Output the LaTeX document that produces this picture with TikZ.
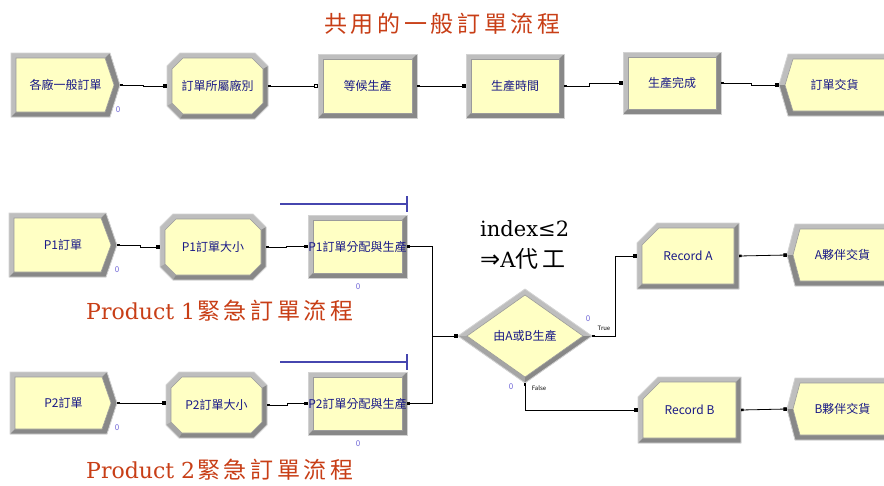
\documentclass[tikz,border=0pt]{standalone}
\usepackage{fontspec}
\setmainfont{DejaVu Serif}
\newfontfamily\cjk{Noto Sans CJK TC}
\newfontfamily\cjkls{Noto Sans CJK TC}[LetterSpace=16]
\newfontfamily\djsans{DejaVu Sans}
\usetikzlibrary{shapes.geometric,arrows.meta}
\definecolor{modfill}{RGB}{255,255,196}
\definecolor{bevlight}{RGB}{190,190,190}
\definecolor{bevmid}{RGB}{165,165,165}
\definecolor{bevdark}{RGB}{136,136,136}
\definecolor{bevedge}{RGB}{210,210,210}
\definecolor{bevin}{RGB}{155,155,155}
\definecolor{modtxt}{RGB}{25,25,135}
\definecolor{ttlred}{RGB}{200,62,22}
\definecolor{zerocol}{RGB}{110,100,215}
\definecolor{resline}{RGB}{70,70,175}
\tikzset{
  modtext/.style={inner sep=0pt, text=modtxt, font=\cjk\fontsize{12}{12}\selectfont},
  conn/.style={line width=0.8pt, black, arrows={Square[length=2.5pt,width=2.5pt]-Square[length=3.5pt,width=3.5pt]}},
  connh/.style={line width=0.8pt, black, arrows={Square[length=2.5pt,width=2.5pt]-Square[open,length=4pt,width=4pt]}},
  conns/.style={line width=0.8pt, black, arrows={Square[length=2.5pt,width=2.5pt]-}},
  zero/.style={text=zerocol, font=\cjk\fontsize{8}{8}\selectfont, inner sep=0pt},
  redttl/.style={text=ttlred, inner sep=0pt, anchor=west},
  blacktxt/.style={text=black, inner sep=0pt, anchor=west, font=\fontsize{21}{21}\selectfont},
  tflabel/.style={text=black, inner sep=0pt, font=\cjk\fontsize{6}{6}\selectfont},
  bevline/.style={bevedge, line width=0.8pt},
  innerline/.style={fill=modfill, draw=bevin, line width=0.6pt}
}
% process: name, x0, y0, x1, y1, text
\newcommand{\procmod}[6]{%
  \pgfmathsetmacro\xa{#2+5}\pgfmathsetmacro\xb{#4-5}%
  \pgfmathsetmacro\ya{#3+5}\pgfmathsetmacro\yb{#5-5}%
  \pgfmathsetmacro\mw{#4-#2}\pgfmathsetmacro\mh{#5-#3}%
  \fill[bevlight] (#2,#3) rectangle (#4,#5);
  \fill[bevdark] (#4,#3) -- (#4,#5) -- (#2,#5) -- (\xa,\yb) -- (\xb,\yb) -- (\xb,\ya) -- cycle;
  \draw[bevline] (#2,#3) rectangle (#4,#5);
  \filldraw[innerline] (\xa,\ya) rectangle (\xb,\yb);
  \node[modtext,minimum width=\mw pt,minimum height=\mh pt] (#1) at ({(#2+#4)/2},{(#3+#5)/2}) {#6};}
% create: name, x0, y0, x1 corner, xp point, y1, text
\newcommand{\createmod}[7]{%
  \pgfmathsetmacro\ym{(#3+#6)/2}%
  \pgfmathsetmacro\xa{#2+5}\pgfmathsetmacro\xb{#4-5}\pgfmathsetmacro\xq{#5-6}%
  \pgfmathsetmacro\ya{#3+5}\pgfmathsetmacro\yb{#6-5}%
  \pgfmathsetmacro\mw{#5-#2}\pgfmathsetmacro\mh{#6-#3}%
  \fill[bevlight] (#2,#3) -- (#4,#3) -- (#5,\ym) -- (#4,#6) -- (#2,#6) -- cycle;
  \fill[bevdark] (#4,#3) -- (#5,\ym) -- (#4,#6) -- (#2,#6) -- (\xa,\yb) -- (\xb,\yb) -- (\xq,\ym) -- (\xb,\ya) -- cycle;
  \draw[bevline] (#2,#3) -- (#4,#3) -- (#5,\ym) -- (#4,#6) -- (#2,#6) -- cycle;
  \filldraw[innerline] (\xa,\ya) -- (\xb,\ya) -- (\xq,\ym) -- (\xb,\yb) -- (\xa,\yb) -- cycle;
  \node[modtext,minimum width=\mw pt,minimum height=\mh pt] (#1) at ({(#2+#5)/2},\ym) {#7};}
% dispose: name, xp point, x1 corner, y0, x2 right, y1, text
\newcommand{\disposemod}[7]{%
  \pgfmathsetmacro\ym{(#4+#6)/2}%
  \pgfmathsetmacro\xq{#2+6}\pgfmathsetmacro\xa{#3+5}\pgfmathsetmacro\xb{#5-5}%
  \pgfmathsetmacro\ya{#4+5}\pgfmathsetmacro\yb{#6-5}%
  \pgfmathsetmacro\mw{#5-#2}\pgfmathsetmacro\mh{#6-#4}%
  \fill[bevlight] (#2,\ym) -- (#3,#4) -- (#5,#4) -- (#5,#6) -- (#3,#6) -- cycle;
  \fill[bevdark] (#5,#6) -- (#3,#6) -- (#2,\ym) -- (\xq,\ym) -- (\xa,\yb) -- (\xb,\yb) -- cycle;
  \draw[bevline] (#2,\ym) -- (#3,#4) -- (#5,#4) -- (#5,#6) -- (#3,#6) -- cycle;
  \filldraw[innerline] (\xq,\ym) -- (\xa,\ya) -- (\xb,\ya) -- (\xb,\yb) -- (\xa,\yb) -- cycle;
  \node[modtext,minimum width=\mw pt,minimum height=\mh pt] (#1) at ({(#2+#5)/2},\ym) {#7};}
% record: name, x0, y0, x1, y1, text
\newcommand{\recordmod}[6]{%
  \pgfmathsetmacro\xa{#2+5}\pgfmathsetmacro\xb{#4-5}%
  \pgfmathsetmacro\ya{#3+5}\pgfmathsetmacro\yb{#5-5}%
  \pgfmathsetmacro\mw{#4-#2}\pgfmathsetmacro\mh{#5-#3}%
  \fill[bevlight] ({#2+20},#3) -- (#4,#3) -- (#4,#5) -- (#2,#5) -- (#2,{#3+20}) -- cycle;
  \fill[bevdark] (#4,#3) -- (#4,#5) -- (#2,#5) -- (\xa,\yb) -- (\xb,\yb) -- (\xb,\ya) -- cycle;
  \draw[bevline] ({#2+20},#3) -- (#4,#3) -- (#4,#5) -- (#2,#5) -- (#2,{#3+20}) -- cycle;
  \filldraw[innerline] ({#2+22},\ya) -- (\xb,\ya) -- (\xb,\yb) -- (\xa,\yb) -- (\xa,{#3+22}) -- cycle;
  \node[modtext,minimum width=\mw pt,minimum height=\mh pt] (#1) at ({(#2+#4)/2},{(#3+#5)/2}) {#6};}
% assign: name, x0, y0, x1, y1, text
\newcommand{\assignmod}[6]{%
  \pgfmathsetmacro\xa{#2+5}\pgfmathsetmacro\xb{#4-5}%
  \pgfmathsetmacro\ya{#3+5}\pgfmathsetmacro\yb{#5-5}%
  \pgfmathsetmacro\mw{#4-#2}\pgfmathsetmacro\mh{#5-#3}%
  \fill[bevlight] ({#2+13},#3) -- ({#4-13},#3) -- (#4,{#3+13}) -- (#4,{#5-13}) -- ({#4-13},#5) -- ({#2+13},#5) -- (#2,{#5-13}) -- (#2,{#3+13}) -- cycle;
  \fill[bevmid] ({#2+13},#5) -- (#2,{#5-13}) -- (\xa,{\yb-11}) -- ({\xa+11},\yb) -- cycle;
  \fill[bevdark] (#4,{#3+13}) -- (#4,{#5-13}) -- ({#4-13},#5) -- ({#2+13},#5) -- ({\xa+11},\yb) -- ({\xb-11},\yb) -- (\xb,{\yb-11}) -- (\xb,{\ya+11}) -- cycle;
  \draw[bevline] ({#2+13},#3) -- ({#4-13},#3) -- (#4,{#3+13}) -- (#4,{#5-13}) -- ({#4-13},#5) -- ({#2+13},#5) -- (#2,{#5-13}) -- (#2,{#3+13}) -- cycle;
  \filldraw[innerline] ({\xa+11},\ya) -- ({\xb-11},\ya) -- (\xb,{\ya+11}) -- (\xb,{\yb-11}) -- ({\xb-11},\yb) -- ({\xa+11},\yb) -- (\xa,{\yb-11}) -- (\xa,{\ya+11}) -- cycle;
  \node[modtext,minimum width=\mw pt,minimum height=\mh pt] (#1) at ({(#2+#4)/2},{(#3+#5)/2}) {#6};}
\begin{document}
\begin{tikzpicture}[x=1pt,y=-1pt]
\clip (0,0) rectangle (884,485);
\fill[white] (0,0) rectangle (884,485);
% titles
\node[redttl, font=\cjkls\fontsize{23}{23}\selectfont] (ttl) at (324,24) {共用的一般訂單流程};
\node[redttl] (pt1) at (86,311) {\fontsize{22}{22}\selectfont Product 1\kern2pt\cjkls\fontsize{23}{23}\selectfont 緊急訂單流程};
\node[redttl] (pt2) at (86,470) {\fontsize{22}{22}\selectfont Product 2\kern2pt\cjkls\fontsize{23}{23}\selectfont 緊急訂單流程};
\node[blacktxt] (ix1) at (480,229) {index≤2};
\node[blacktxt] (ix2) at (480,259) {{\djsans\fontsize{24}{24}\selectfont ⇒}A{\cjkls\fontsize{23}{23}\selectfont 代工}};
% row 1
\createmod{c1}{11}{53}{110}{120}{117}{各廠一般訂單}
\assignmod{a1}{167}{53}{268}{119}{訂單所屬廠別}
\procmod{p1}{318}{54}{417}{118}{等候生產}
\procmod{p2}{466}{54}{564}{118}{生產時間}
\procmod{p3}{623}{52}{721}{114}{生產完成}
\disposemod{d1}{779}{788}{54}{890}{116}{訂單交貨}
% row 2
\createmod{c2}{9}{213}{106}{117}{277}{P1訂單}
\assignmod{a2}{160}{214}{266}{280}{P1訂單大小}
\procmod{p4}{308}{215}{407}{278}{P1訂單分配與生產}
% row 3
\createmod{c3}{10}{372}{107}{117}{434}{P2訂單}
\assignmod{a3}{166}{372}{267}{438}{P2訂單大小}
\procmod{p5}{308}{372}{407}{435}{P2訂單分配與生產}
% decide
\fill[bevlight] (458,336) -- (525,289) -- (592,336) -- (525,383) -- cycle;
\fill[bevmid] (458,336) -- (525,383) -- (525,377) -- (467,336) -- cycle;
\fill[bevdark] (592,336) -- (525,383) -- (525,377) -- (583,336) -- cycle;
\draw[bevline] (458,336) -- (525,289) -- (592,336) -- (525,383) -- cycle;
\filldraw[innerline] (467,336) -- (525,295) -- (583,336) -- (525,377) -- cycle;
\node[diamond, modtext, minimum width=134pt, minimum height=94pt] (dd) at (525,336) {由A或B生產};
% records and disposes
\recordmod{rA}{637}{223}{739}{289}{Record A}
\recordmod{rB}{638}{377}{741}{443}{Record B}
\disposemod{dA}{787}{795}{224}{898}{286}{A夥伴交貨}
\disposemod{dB}{787}{795}{378}{898}{440}{B夥伴交貨}
% resource lines
\draw[resline, line width=1.2pt] (280,204) -- (407,204);
\draw[resline, line width=1.2pt] (407,196) -- (407,212);
\draw[resline, line width=1.2pt] (280,362) -- (407,362);
\draw[resline, line width=1.2pt] (407,354) -- (407,370);
% connectors
\draw[conn] (c1.east) -- ++(23,0) |- (a1.west);
\draw[connh] (a1.east) -- (p1.west);
\draw[conn] (p1.east) -- (p2.west);
\draw[conn] (p2.east) -- ++(25,0) |- (p3.west);
\draw[conn] (p3.east) -- ++(30,0) |- (d1.west);
\draw[conn] (c2.east) -- ++(23,0) |- (a2.west);
\draw[conn] (a2.east) -- ++(20,0) |- (p4.west);
\draw[conn] (c3.east) -- (a3.west |- c3.east);
\draw[conn] (a3.east) -- ++(20,0) |- (p5.west);
\coordinate (jn) at (432,336);
\draw[conn] (p4.east) -| (jn) -- (dd.west);
\draw[conns] (p5.east) -| (jn);
\draw[conn] (dd.east) -- ++(23,0) |- (rA.west);
\draw[conn] (dd.south) |- (rB.west);
\draw[conn] (rA.east) -- (dA.west);
\draw[conn] (rB.east) -- (dB.west);
% true / false labels
\node[tflabel] (tr) at (604,328) {True};
\node[tflabel] (fl) at (539,388) {False};
% zero counters
\node[zero] (z1) at (118,110) {0};
\node[zero] (z2) at (117,270) {0};
\node[zero] (z3) at (117,428) {0};
\node[zero] (z4) at (358,287) {0};
\node[zero] (z5) at (358,444) {0};
\node[zero] (z6) at (588,319) {0};
\node[zero] (z7) at (511,387) {0};
\end{tikzpicture}
\end{document}
